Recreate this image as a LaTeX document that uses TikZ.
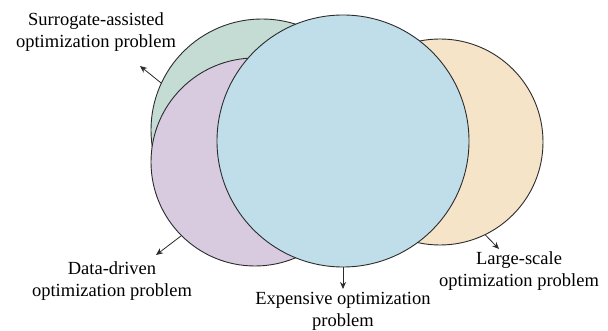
\documentclass[tikz,border=0pt]{standalone}
\usepackage{fontspec}
\setmainfont{Liberation Serif}
\usetikzlibrary{arrows.meta}
\definecolor{cgreen}{HTML}{C5DCD4}
\definecolor{cpurple}{HTML}{D8CBE0}
\definecolor{cblue}{HTML}{C0DEE9}
\definecolor{corange}{HTML}{F6E4C8}
\definecolor{cline}{HTML}{2B2B2B}
\begin{document}
\begin{tikzpicture}[x=1pt,y=-1pt,
  set/.style={circle,draw=cline,line width=0.9pt,inner sep=0pt},
  lbl/.style={align=center,font=\fontsize{18.5}{22}\selectfont,inner sep=0pt},
  pointer/.style={draw=cline,line width=0.8pt,-{Stealth[length=7pt,width=6pt]}}]
\useasboundingbox (0,0) rectangle (608,331);
\node[set,fill=cgreen,minimum size=222pt] (sur) at (262,130) {};
\node[set,fill=corange,minimum size=206pt] (lar) at (440,142) {};
\node[set,fill=cpurple,minimum size=208pt] (dat) at (255,162) {};
\node[set,fill=cblue,minimum size=252pt] (exp) at (343,141) {};
\node[lbl] (tsur) at (96,32) {Surrogate-assisted\\optimization problem};
\node[lbl] (tdat) at (112,281) {Data-driven\\optimization problem};
\node[lbl] (texp) at (343,311) {Expensive optimization\\problem};
\node[lbl] (tlar) at (519,271) {Large-scale\\optimization problem};
\coordinate (psur) at (140,66);
\coordinate (pdat) at (156,255);
\coordinate (pexp) at (343,289);
\coordinate (plar) at (499,249);
\draw[pointer] (sur.155) -- (psur);
\draw[pointer] (dat.225) -- (pdat);
\draw[pointer] (exp.270) -- (pexp);
\draw[pointer] (lar.296) -- (plar);
\end{tikzpicture}
\end{document}
